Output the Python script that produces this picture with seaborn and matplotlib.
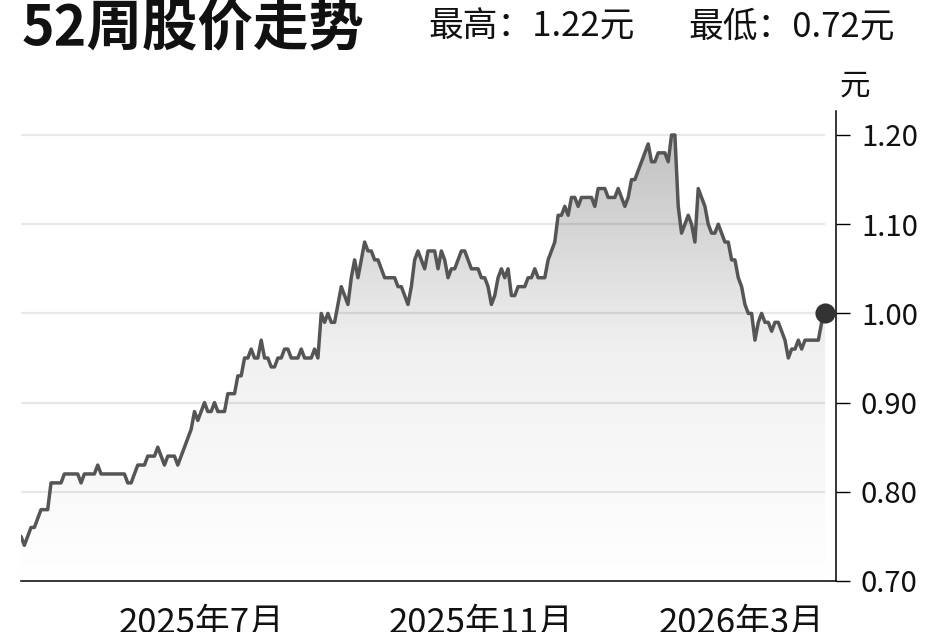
import numpy as np
import pandas as pd
import seaborn as sns
import matplotlib.pyplot as plt
from matplotlib.colors import LinearSegmentedColormap

# daily closing prices (yuan)
prices = [
    0.75, 0.74, 0.75, 0.76, 0.76, 0.77, 0.78, 0.78, 0.78, 0.81,
    0.81, 0.81, 0.81, 0.82, 0.82, 0.82, 0.82, 0.82, 0.81, 0.82,
    0.82, 0.82, 0.82, 0.83, 0.82, 0.82, 0.82, 0.82, 0.82, 0.82,
    0.82, 0.82, 0.81, 0.81, 0.82, 0.83, 0.83, 0.83, 0.84, 0.84,
    0.84, 0.85, 0.84, 0.83, 0.84, 0.84, 0.84, 0.83, 0.84, 0.85,
    0.86, 0.87, 0.89, 0.88, 0.89, 0.90, 0.89, 0.89, 0.90, 0.89,
    0.89, 0.89, 0.91, 0.91, 0.91, 0.93, 0.93, 0.95, 0.95, 0.96,
    0.95, 0.95, 0.97, 0.95, 0.95, 0.94, 0.94, 0.95, 0.95, 0.96,
    0.96, 0.95, 0.95, 0.95, 0.96, 0.95, 0.95, 0.95, 0.96, 0.95,
    1.00, 0.99, 1.00, 0.99, 0.99, 1.01, 1.03, 1.02, 1.01, 1.04,
    1.06, 1.04, 1.06, 1.08, 1.07, 1.07, 1.06, 1.06, 1.05, 1.04,
    1.04, 1.04, 1.04, 1.03, 1.03, 1.02, 1.01, 1.03, 1.06, 1.07,
    1.06, 1.05, 1.07, 1.07, 1.07, 1.05, 1.07, 1.06, 1.04, 1.05,
    1.05, 1.06, 1.07, 1.07, 1.06, 1.05, 1.05, 1.05, 1.04, 1.04,
    1.03, 1.01, 1.02, 1.04, 1.05, 1.04, 1.05, 1.02, 1.02, 1.03,
    1.03, 1.03, 1.04, 1.04, 1.05, 1.04, 1.04, 1.04, 1.06, 1.07,
    1.08, 1.11, 1.11, 1.12, 1.11, 1.13, 1.13, 1.12, 1.13, 1.13,
    1.13, 1.13, 1.12, 1.14, 1.14, 1.14, 1.13, 1.13, 1.13, 1.14,
    1.13, 1.12, 1.13, 1.15, 1.15, 1.16, 1.17, 1.18, 1.19, 1.17,
    1.17, 1.18, 1.18, 1.18, 1.17, 1.20, 1.20, 1.12, 1.09, 1.10,
    1.11, 1.10, 1.08, 1.14, 1.13, 1.12, 1.10, 1.09, 1.09, 1.10,
    1.09, 1.08, 1.08, 1.06, 1.06, 1.04, 1.03, 1.01, 1.00, 1.00,
    0.97, 0.99, 1.00, 0.99, 0.99, 0.98, 0.99, 0.99, 0.98, 0.97,
    0.95, 0.96, 0.96, 0.97, 0.96, 0.97, 0.97, 0.97, 0.97, 0.97,
    0.99, 1.00,
]
month_pos = [54, 138, 216]
month_labels = ['2025年7月', '2025年11月', '2026年3月']
price_ticks = [0.70, 0.80, 0.90, 1.00, 1.10, 1.20]
title = '52周股价走势'
high_text = '最高：1.22元'
low_text = '最低：0.72元'

df = pd.DataFrame({'day': range(len(prices)), 'price': prices})
n = len(df)

sns.set_theme(style='white')
plt.rcParams['font.family'] = ['Noto Sans CJK SC', 'DejaVu Sans']

fig = plt.figure(figsize=(9.48, 6.32), dpi=100)
ax = fig.add_axes([21 / 948, 51 / 632, 815 / 948, 470 / 632])
ymin, ymax = 0.70, 0.70 + 470 / 892

# grey gradient under the line
cmap = LinearSegmentedColormap.from_list('fade', ['#ffffff', '#f0f0f0', '#bbbbbb'])
grad = np.linspace(0, 1, 256).reshape(-1, 1)
img = ax.imshow(grad, extent=[0, n - 1, ymin, ymax], origin='lower',
                cmap=cmap, aspect='auto', zorder=1)
area = ax.fill_between(df['day'], df['price'], ymin, color='none', lw=0)
img.set_clip_path(area.get_paths()[0], transform=ax.transData)

ax.hlines(price_ticks[1:], 0, n - 1, color='black', alpha=0.09, lw=1.6, zorder=2)

sns.lineplot(data=df, x='day', y='price', color='#555555', lw=2.5, ax=ax, zorder=3)
sns.scatterplot(data=df.tail(1), x='day', y='price', s=180, color='#333333',
                edgecolor='#333333', ax=ax, zorder=4)

ax.set_xlim(0, n - 1 + 11 / 3.34)
ax.set_ylim(ymin, ymax)
ax.set_xlabel('')
ax.set_ylabel('')

ax.yaxis.tick_right()
ax.set_yticks(price_ticks, [f'{v:.2f}' for v in price_ticks])
ax.set_xticks(month_pos, month_labels)
ax.tick_params(axis='y', direction='out', length=10, width=1, pad=8,
               labelsize=21, color='black', labelcolor='#111111')
ax.tick_params(axis='x', direction='out', length=14, width=1, pad=4,
               labelsize=25, color='black', labelcolor='#111111')
for side in ['left', 'top']:
    ax.spines[side].set_visible(False)
for side in ['right', 'bottom']:
    ax.spines[side].set_color('black')
    ax.spines[side].set_linewidth(1.1)

fig.text(22 / 948, 1 - 28 / 632, title, fontsize=40, fontweight='bold',
         va='center', ha='left', color='#111111')
fig.text(428 / 948, 1 - 27 / 632, high_text, fontsize=25, va='center', ha='left', color='#111111')
fig.text(688 / 948, 1 - 27 / 632, low_text, fontsize=25, va='center', ha='left', color='#111111')
fig.text(855 / 948, 1 - 86 / 632, '元', fontsize=22, va='center', ha='center', color='#111111')

fig.savefig('out.png', dpi=100)
